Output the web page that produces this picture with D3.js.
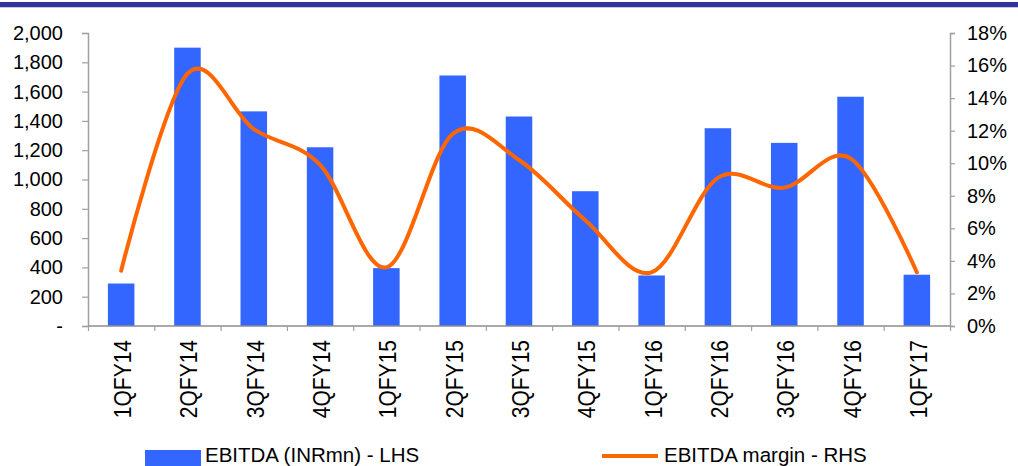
<!DOCTYPE html>
<html>
<head>
<meta charset="utf-8">
<script src="https://cdn.jsdelivr.net/npm/d3@7"></script>
<style>
  body { margin: 0; background: #fff; }
  svg { display: block; font-family: "Liberation Sans", Arial, sans-serif; }
</style>
</head>
<body>
<script>
// data
var quarters = ["1QFY14", "2QFY14", "3QFY14", "4QFY14", "1QFY15", "2QFY15", "3QFY15",
  "4QFY15", "1QFY16", "2QFY16", "3QFY16", "4QFY16", "1QFY17"];
var ebitda = [290, 1900, 1465, 1220, 395, 1710, 1430, 920, 345, 1350, 1250, 1565, 350];
var margin = [3.4, 15.5, 12.1, 9.9, 3.6, 11.8, 10.2, 6.5, 3.3, 9.1, 8.5, 10.3, 3.3];
var leftTicks = [0, 200, 400, 600, 800, 1000, 1200, 1400, 1600, 1800, 2000];
var rightTicks = [0, 2, 4, 6, 8, 10, 12, 14, 16, 18];

var W = 1018, H = 466;
var plot = { left: 88, right: 950, top: 33, bottom: 326 };

var svg = d3.select("body").append("svg")
  .attr("width", W)
  .attr("height", H);

// header band at the top
svg.append("rect").attr("x", 0).attr("y", 2).attr("width", W).attr("height", 5).attr("fill", "#333399");
svg.append("rect").attr("x", 0).attr("y", 7).attr("width", W).attr("height", 1).attr("fill", "#c8c8e6");

var x = d3.scaleBand()
  .domain(quarters)
  .range([plot.left, plot.right])
  .paddingInner(0.6)
  .paddingOuter(0.3);

// slot index -> pixel, for the tick marks between categories
var xSlot = d3.scaleLinear().domain([0, quarters.length]).range([plot.left, plot.right]);

var yL = d3.scaleLinear().domain([0, 2000]).range([plot.bottom, plot.top]);
var yR = d3.scaleLinear().domain([0, 18]).range([plot.bottom, plot.top]);

// bars
svg.append("g")
  .selectAll("rect")
  .data(ebitda)
  .enter()
  .append("rect")
  .attr("x", (d, i) => x(quarters[i]))
  .attr("y", (d) => yL(d))
  .attr("width", x.bandwidth())
  .attr("height", (d) => yL(0) - yL(d))
  .attr("fill", "#3366FF");

// axes
var axisLeft = svg.append("g")
  .attr("transform", "translate(" + plot.left + ",0)")
  .call(d3.axisLeft(yL).tickValues(leftTicks).tickSize(6).tickPadding(19)
    .tickFormat((d) => d === 0 ? "-" : d3.format(",")(d)));

var axisRight = svg.append("g")
  .attr("transform", "translate(" + plot.right + ",0)")
  .call(d3.axisRight(yR).tickValues(rightTicks).tickSize(5).tickPadding(12)
    .tickFormat((d) => d + "%"));

var axisBottom = svg.append("g")
  .attr("transform", "translate(0," + plot.bottom + ")")
  .call(d3.axisBottom(xSlot).tickValues(d3.range(quarters.length + 1)).tickSize(5)
    .tickFormat(""));

[axisLeft, axisRight, axisBottom].forEach(function (g) {
  g.select(".domain").attr("stroke", "#a0a0a0").attr("stroke-width", 1.5);
  g.selectAll(".tick line").attr("stroke", "#a0a0a0").attr("stroke-width", 1.2);
  g.selectAll(".tick text")
    .attr("font-size", 20)
    .attr("fill", "#000")
    .attr("font-family", "Liberation Sans, Arial, sans-serif");
});
axisBottom.select(".domain").attr("d", "M" + plot.left + ",0H" + plot.right).attr("stroke", "#8c8c8c");

// rotated category labels
svg.append("g")
  .selectAll("text")
  .data(quarters)
  .enter()
  .append("text")
  .attr("transform", (d) => "translate(" + (x(d) + x.bandwidth() / 2 + 10) + ",340) rotate(-90) scale(1,1.18)")
  .attr("text-anchor", "end")
  .attr("font-size", 21)
  .attr("fill", "#000")
  .text((d) => d);

// smoothed margin line
var line = d3.line()
  .x((d, i) => x(quarters[i]) + x.bandwidth() / 2)
  .y((d) => yR(d))
  .curve(d3.curveCatmullRom.alpha(0));

svg.append("path")
  .datum(margin)
  .attr("d", line)
  .attr("fill", "none")
  .attr("stroke", "#FF6600")
  .attr("stroke-width", 4)
  .attr("stroke-linecap", "round");

// legend
var legend = svg.append("g");
legend.append("rect")
  .attr("x", 145).attr("y", 450).attr("width", 56).attr("height", 16)
  .attr("fill", "#3366FF");
legend.append("text")
  .attr("x", 205).attr("y", 462)
  .attr("font-size", 20.5)
  .text("EBITDA (INRmn) - LHS");
legend.append("line")
  .attr("x1", 602).attr("x2", 658).attr("y1", 456).attr("y2", 456)
  .attr("stroke", "#FF6600").attr("stroke-width", 4);
legend.append("text")
  .attr("x", 664).attr("y", 462)
  .attr("font-size", 20.5)
  .text("EBITDA margin - RHS");
</script>
</body>
</html>
